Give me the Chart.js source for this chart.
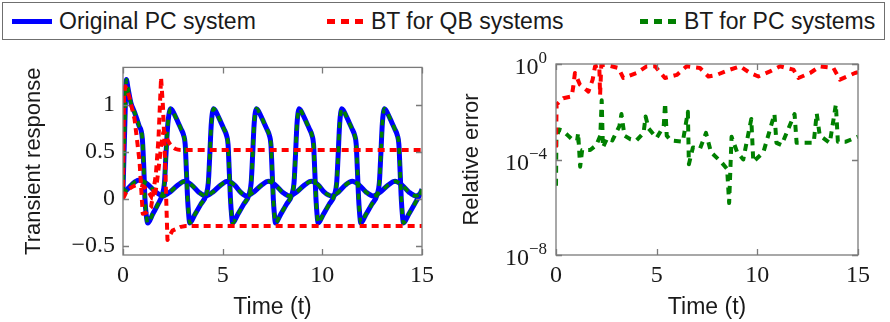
<!DOCTYPE html>
<html>
<head>
<meta charset="utf-8">
<script src="https://cdn.jsdelivr.net/npm/chart.js@4/dist/chart.umd.min.js"></script>
<style>
  html,body{margin:0;padding:0;background:#fff;}
  body{width:890px;height:322px;position:relative;overflow:hidden;font-family:"Liberation Sans",sans-serif;color:#1a1a1a;}
  #legendBox{position:absolute;left:2px;top:2px;width:883px;height:38px;box-sizing:border-box;border:1.5px solid #6f6f6f;}
  .sw{position:absolute;height:5px;top:19px;}
  .lt{position:absolute;top:8px;font-size:23px;line-height:26px;white-space:nowrap;}
  canvas{position:absolute;}
</style>
</head>
<body>
<div id="legendBox"></div>
<div class="sw" style="left:12px;width:40px;background:#0000ff;"></div>
<span class="lt" style="left:59px;">Original PC system</span>
<div class="sw" style="left:327px;width:36px;background:repeating-linear-gradient(90deg,#ff0000 0 8px,transparent 8px 14px);"></div>
<span class="lt" style="left:371px;">BT for QB systems</span>
<div class="sw" style="left:640px;width:36px;background:repeating-linear-gradient(90deg,#008000 0 8px,transparent 8px 14px);"></div>
<span class="lt" style="left:684px;">BT for PC systems</span>

<canvas id="c1" width="440" height="277" style="left:0;top:45px;"></canvas>
<canvas id="c2" width="450" height="277" style="left:440px;top:45px;"></canvas>

<script>
// ---------- DATA ----------
const xTicks = [0, 5, 10, 15];
const leftYTicks = [-0.5, 0, 0.5, 1];
const rightYTicks = [1e-8, 1e-4, 1];

// Transient response, output 1 (spiky), [t, value]
const pcOut1 = [
 [0,0.07],[0.08,0.7],[0.17,1.27],[0.25,1.18],[0.4,1.02],[0.58,0.92],[0.8,0.78],[0.97,0.64],[1.04,0.35],[1.1,0.0],[1.17,-0.18],[1.24,-0.26],[1.5,-0.16],[1.75,-0.06],[1.98,0.05],[2.08,0.17],[2.15,0.45],[2.25,0.80],
 [2.40,0.96],[2.48,0.94],[2.60,0.89],[2.75,0.82],[2.90,0.75],[3.05,0.67],[3.12,0.58],[3.18,0.30],[3.24,0.00],[3.30,-0.18],[3.35,-0.26],[3.60,-0.17],[3.90,-0.06],[4.18,0.05],[4.28,0.17],[4.35,0.45],[4.43,0.80],
 [4.55,0.96],[4.63,0.94],[4.75,0.89],[4.90,0.82],[5.05,0.75],[5.20,0.67],[5.27,0.58],[5.33,0.30],[5.39,0.00],[5.45,-0.18],[5.50,-0.26],[5.75,-0.17],[6.05,-0.06],[6.33,0.05],[6.43,0.17],[6.50,0.45],[6.58,0.80],
 [6.70,0.96],[6.78,0.94],[6.90,0.89],[7.05,0.82],[7.20,0.75],[7.35,0.67],[7.42,0.58],[7.48,0.30],[7.54,0.00],[7.60,-0.18],[7.65,-0.26],[7.90,-0.17],[8.20,-0.06],[8.48,0.05],[8.58,0.17],[8.65,0.45],[8.73,0.80],
 [8.84,0.96],[8.92,0.94],[9.04,0.89],[9.19,0.82],[9.34,0.75],[9.49,0.67],[9.56,0.58],[9.62,0.30],[9.68,0.00],[9.74,-0.18],[9.79,-0.26],[10.04,-0.17],[10.34,-0.06],[10.62,0.05],[10.72,0.17],[10.79,0.45],[10.87,0.80],
 [10.98,0.96],[11.06,0.94],[11.18,0.89],[11.33,0.82],[11.48,0.75],[11.63,0.67],[11.70,0.58],[11.76,0.30],[11.82,0.00],[11.88,-0.18],[11.93,-0.26],[12.18,-0.17],[12.48,-0.06],[12.76,0.05],[12.86,0.17],[12.93,0.45],[13.01,0.80],
 [13.12,0.96],[13.20,0.94],[13.32,0.89],[13.47,0.82],[13.62,0.75],[13.77,0.67],[13.84,0.58],[13.90,0.30],[13.96,0.00],[14.02,-0.18],[14.07,-0.26],[14.32,-0.17],[14.62,-0.06],[14.90,0.05],[15.0,0.10]
];
// Transient response, output 2 (smooth), [t, value]
const pcOut2 = [
 [0,0.05],[0.3,0.12],[0.6,0.18],[0.85,0.2],[1.2,0.16],[1.6,0.08],[2.0,0.03],
 [2.35,0.07],[2.75,0.145],[3.1,0.185],[3.45,0.145],[3.8,0.07],[4.15,0.03],
 [4.5,0.07],[4.9,0.145],[5.25,0.185],[5.6,0.145],[5.9,0.07],[6.2,0.03],
 [6.55,0.07],[6.95,0.145],[7.3,0.185],[7.65,0.145],[8.0,0.07],[8.35,0.03],
 [8.7,0.07],[9.1,0.145],[9.45,0.185],[9.8,0.145],[10.1,0.07],[10.45,0.03],
 [10.8,0.07],[11.15,0.145],[11.5,0.185],[11.85,0.145],[12.2,0.07],[12.55,0.03],
 [12.9,0.07],[13.3,0.145],[13.65,0.185],[14.0,0.145],[14.35,0.07],[14.7,0.03],[15,0.06]
];
// BT for QB systems, outputs 1 and 2
const qbOut1 = [
 [0,0],[0.05,1.1],[0.12,1.2],[0.3,1.1],[0.58,0.85],[0.83,0.4],[0.99,-0.16],[1.15,-0.15],[1.41,-0.09],[1.65,0.26],[1.78,0.64],[1.91,1.29],[2.0,1.0],[2.08,0.6],[2.15,0.12],[2.23,-0.44],[2.48,-0.34],[2.9,-0.3],[3.14,-0.29],[15,-0.29]
];
const qbOut2 = [
 [0,0],[0.2,0.08],[0.5,0.13],[0.8,0.15],[1.1,0.12],[1.35,0.05],[1.5,0.0],[1.65,0.1],[1.8,0.35],[1.95,0.62],[2.05,0.72],[2.2,0.64],[2.4,0.57],[2.64,0.53],[3.0,0.52],[15,0.52]
];
// Relative error, [t, error]
const errQB = [
 [0,3.2e-4],[0.03,2e-2],[0.36,3.7e-2],[0.78,4.4e-2],[0.86,0.115],[0.94,0.42],[1.19,0.135],[1.61,0.07],[1.82,0.22],[1.94,0.8],[2.15,0.9],[2.19,0.05],[2.25,0.9],[2.52,0.9],
 [3.1,0.68],[3.34,0.26],[4.0,0.42],[4.5,0.8],[4.92,0.8],[5.41,0.26],[6.0,0.35],[6.49,0.8],[7.15,0.68],[7.57,0.3],[7.98,0.35],[8.64,0.58],[9.14,0.8],[9.64,0.42],
 [10.05,0.3],[10.63,0.49],[11.13,0.8],[11.79,0.58],[12.04,0.26],[12.62,0.42],[13.11,0.8],[13.78,0.68],[14.1,0.22],[14.85,0.42],[15,0.45]
];
const errPC = [
 [0,8e-6],[0.02,8e-4],[0.15,1.8e-3],[0.35,1.6e-3],[0.6,1e-3],[0.85,6.3e-4],[1.05,6.3e-4],[1.1,1.3e-3],[1.2,5e-5],[1.3,2.5e-4],[1.7,2.5e-4],[2.0,4e-4],[2.2,1e-3],[2.27,3e-2],[2.33,3.2e-4],
 [2.55,8e-4],[2.8,6.3e-4],[3.15,2.5e-3],[3.25,8e-3],[3.4,1e-3],[3.7,7e-4],[4.0,6.3e-4],[4.35,1.3e-3],[4.45,6.3e-3],[4.6,2e-3],[5.0,8e-4],[5.35,2.5e-3],[5.42,2.3e-2],[5.5,1e-3],
 [5.7,6.3e-4],[6.3,5.6e-4],[6.55,1e-2],[6.6,6.3e-5],[6.8,3.2e-4],[7.15,2.8e-4],[7.45,1.3e-3],[7.7,2e-4],[8.2,8e-5],[8.5,4e-5],[8.6,1.5e-6],[8.72,9e-4],[9.0,2e-4],[9.3,1e-4],
 [9.7,5e-3],[9.8,8e-5],[10.3,2e-4],[10.85,8e-3],[10.95,5e-4],[11.2,4e-4],[11.85,8e-3],[11.95,5e-4],[12.3,5e-4],[12.8,5e-4],[12.95,8.5e-3],[13.1,1e-3],[13.6,5e-4],[13.9,2e-2],[14.0,5.6e-4],
 [14.4,5.6e-4],[15,9e-4]
];

// ---------- STYLE / HELPERS ----------
const BLUE = '#0000ff', RED = '#ff0000', GREEN = '#008000';
const TXT = '#1a1a1a';
const serif = '"Liberation Serif", serif';
const sans = '"Liberation Sans", sans-serif';
const xy = arr => arr.map(p => ({x: p[0], y: p[1]}));

const framePlugin = {
  id: 'frame',
  afterDatasetsDraw(chart) {
    const {ctx, chartArea: a, scales} = chart;
    ctx.save();
    ctx.strokeStyle = '#7a7a7a';
    ctx.lineWidth = 1.3;
    ctx.strokeRect(a.left, a.top, a.right - a.left, a.bottom - a.top);
    const L = 6;
    ctx.beginPath();
    scales.x.ticks.forEach(t => {
      const x = Math.round(scales.x.getPixelForValue(t.value)) + 0.5;
      ctx.moveTo(x, a.bottom); ctx.lineTo(x, a.bottom - L);
      ctx.moveTo(x, a.top); ctx.lineTo(x, a.top + L);
    });
    scales.y.ticks.forEach(t => {
      const y = Math.round(scales.y.getPixelForValue(t.value)) + 0.5;
      ctx.moveTo(a.left, y); ctx.lineTo(a.left + L, y);
      ctx.moveTo(a.right, y); ctx.lineTo(a.right - L, y);
    });
    ctx.stroke();
    ctx.restore();
  }
};

const powLabels = {
  id: 'powLabels',
  afterDraw(chart) {
    const {ctx, chartArea: a, scales} = chart;
    ctx.save();
    ctx.fillStyle = TXT;
    ctx.textBaseline = 'middle';
    ctx.textAlign = 'left';
    scales.y.ticks.forEach(t => {
      const y = scales.y.getPixelForValue(t.value);
      const e = Math.round(Math.log10(t.value));
      const expStr = e < 0 ? '\u2212' + Math.abs(e) : String(e);
      ctx.font = '17px ' + serif;
      const we = ctx.measureText(expStr).width;
      ctx.font = '24px ' + serif;
      const wb = ctx.measureText('10').width;
      const xEnd = a.left - 9;
      ctx.fillText('10', xEnd - we - wb, y + 4);
      ctx.font = '17px ' + serif;
      ctx.fillText(expStr, xEnd - we, y - 5);
    });
    ctx.restore();
  }
};

function xScale() {
  return {
    type: 'linear', min: 0, max: 15,
    afterBuildTicks: s => { s.ticks = xTicks.map(v => ({value: v})); },
    afterFit: s => { s.height = 67; },
    grid: {display: false, drawTicks: false},
    border: {display: false},
    ticks: {font: {family: serif, size: 24}, color: TXT, padding: 6, maxRotation: 0, autoSkip: false},
    title: {display: true, text: 'Time (t)', font: {family: sans, size: 23}, color: TXT, padding: {top: 0, bottom: 1}}
  };
}

const baseLine = {pointRadius: 0, fill: false, clip: 0, borderCapStyle: 'butt', borderJoinStyle: 'round'};

// ---------- LEFT CHART ----------
new Chart(document.getElementById('c1'), {
  type: 'line',
  data: {
    datasets: [
      Object.assign({}, baseLine, {data: xy(qbOut1), borderColor: RED, borderWidth: 4, borderDash: [7, 5], order: 1, tension: 0}),
      Object.assign({}, baseLine, {data: xy(qbOut2), borderColor: RED, borderWidth: 4, borderDash: [7, 5], order: 1, cubicInterpolationMode: 'monotone'}),
      Object.assign({}, baseLine, {data: xy(pcOut1), borderColor: GREEN, borderWidth: 3.6, borderDash: [6, 6], order: 2, cubicInterpolationMode: 'monotone'}),
      Object.assign({}, baseLine, {data: xy(pcOut2), borderColor: GREEN, borderWidth: 3.6, borderDash: [6, 6], order: 2, cubicInterpolationMode: 'monotone'}),
      Object.assign({}, baseLine, {data: xy(pcOut1), borderColor: BLUE, borderWidth: 5, order: 3, cubicInterpolationMode: 'monotone'}),
      Object.assign({}, baseLine, {data: xy(pcOut2), borderColor: BLUE, borderWidth: 5, order: 3, cubicInterpolationMode: 'monotone'})
    ]
  },
  options: {
    responsive: false, animation: false, devicePixelRatio: 1,
    layout: {padding: {top: 19, right: 14, left: 0, bottom: 0}},
    plugins: {legend: {display: false}, tooltip: {enabled: false}},
    scales: {
      x: xScale(),
      y: {
        type: 'linear', min: -0.6, max: 1.4,
        afterBuildTicks: s => { s.ticks = leftYTicks.map(v => ({value: v})); },
        afterFit: s => { s.width = 123; },
        grid: {display: false, drawTicks: false},
        border: {display: false},
        ticks: {font: {family: serif, size: 24}, color: TXT, padding: 8,
                callback: v => String(v).replace('-', '\u2212')},
        title: {display: true, text: 'Transient response', font: {family: sans, size: 22}, color: TXT, padding: {top: 21, bottom: 0}}
      }
    }
  },
  plugins: [framePlugin]
});

// ---------- RIGHT CHART ----------
new Chart(document.getElementById('c2'), {
  type: 'line',
  data: {
    datasets: [
      Object.assign({}, baseLine, {data: xy(errQB), borderColor: RED, borderWidth: 4, borderDash: [7, 6], order: 1, tension: 0}),
      Object.assign({}, baseLine, {data: xy(errPC), borderColor: GREEN, borderWidth: 4, borderDash: [7, 6], order: 2, tension: 0})
    ]
  },
  options: {
    responsive: false, animation: false, devicePixelRatio: 1,
    layout: {padding: {top: 19, right: 32, left: 0, bottom: 0}},
    plugins: {legend: {display: false}, tooltip: {enabled: false}},
    scales: {
      x: xScale(),
      y: {
        type: 'logarithmic', min: 1e-8, max: 1,
        afterBuildTicks: s => { s.ticks = rightYTicks.map(v => ({value: v})); },
        afterFit: s => { s.width = 116; },
        grid: {display: false, drawTicks: false},
        border: {display: false},
        ticks: {display: false},
        title: {display: true, text: 'Relative error', font: {family: sans, size: 22}, color: TXT, padding: {top: 19, bottom: 0}}
      }
    }
  },
  plugins: [framePlugin, powLabels]
});
</script>
</body>
</html>
